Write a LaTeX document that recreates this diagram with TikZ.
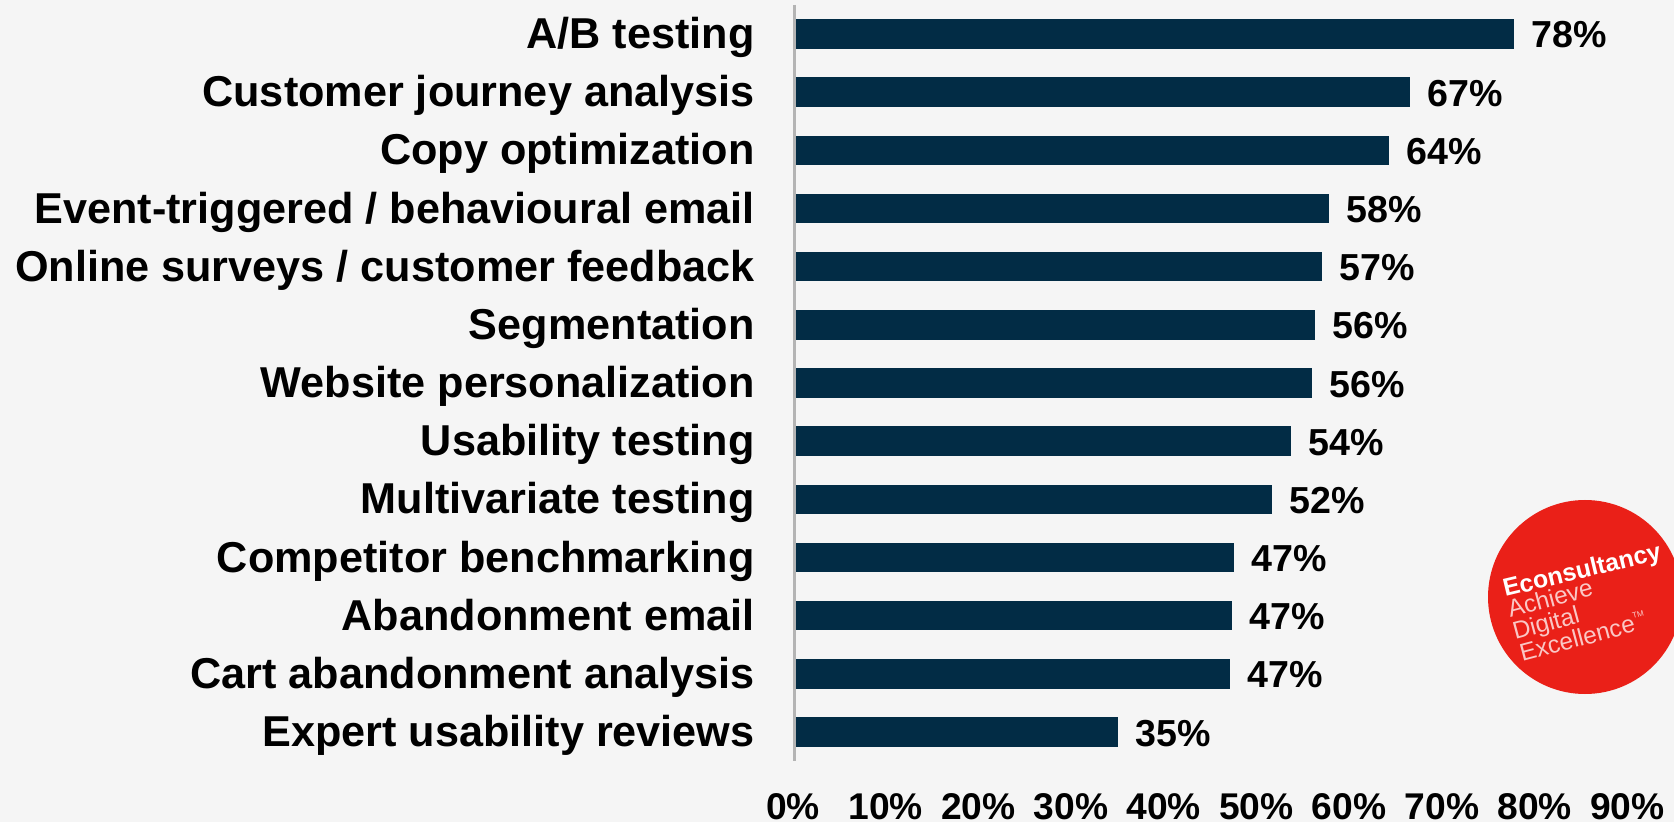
\documentclass[tikz,border=0pt]{standalone}
\usepackage{fontspec}
\setmainfont{Liberation Sans}
\definecolor{pagebg}{HTML}{F5F5F5}
\definecolor{barblue}{HTML}{022C45}
\definecolor{axisgrey}{HTML}{B4B4B4}
\definecolor{logored}{HTML}{EA2018}
\tikzset{
  px/.style={x=0.5pt,y=-0.5pt},
  cat/.style={anchor=base east,font=\bfseries\fontsize{21.6}{24}\selectfont,text=black,inner sep=0pt},
  val/.style={anchor=base west,font=\bfseries\fontsize{18.8}{22}\selectfont,text=black,inner sep=0pt},
  tick/.style={anchor=base,font=\bfseries\fontsize{18.6}{22}\selectfont,text=black,inner sep=0pt},
  hbar/.style={fill=barblue,draw=none},
  logotext/.style={rotate=15,anchor=base west,inner sep=0pt,text=white!75!logored,font=\fontsize{12.2}{14}\selectfont},
}
\begin{document}
\begin{tikzpicture}[px]
\path[use as bounding box,fill=pagebg] (0,0) rectangle (1674,822);
\draw[axisgrey,line width=1.2pt] (794.5,5) -- (794.5,761);
\foreach \i/\lab/\pct/\xend in {
  0/A\slash B testing/78/1514,
  1/Customer journey analysis/67/1410,
  2/Copy optimization/64/1389,
  3/Event-triggered \slash\ behavioural email/58/1329,
  4/Online surveys \slash\ customer feedback/57/1322,
  5/Segmentation/56/1315,
  6/Website personalization/56/1312,
  7/Usability testing/54/1291,
  8/Multivariate testing/52/1272,
  9/Competitor benchmarking/47/1234,
  10/Abandonment email/47/1232,
  11/Cart abandonment analysis/47/1230,
  12/Expert usability reviews/35/1118}{
  \pgfmathsetmacro{\yc}{34+58.17*\i}
  \fill[hbar] (795.5,\yc-14.7) rectangle (\xend,\yc+14.7);
  \node[cat] (label\i) at (755,\yc+14.5) {\lab};
  \node[val] (value\i) at (\xend+17,\yc+14) {\pct\%};
}
\foreach \t/\lab in {0/0,1/10,2/20,3/30,4/40,5/50,6/60,7/70,8/80,9/90}{
  \pgfmathsetmacro{\xc}{793+92.7*\t}
  \node[tick] (tick\t) at (\xc,819) {\lab\%};
}
\begin{scope}
  \clip (0,0) rectangle (1674,822);
  \fill[logored] (1585,597) circle [radius=97];
  \node[logotext,rotate=-1.5,text=white,font=\bfseries\fontsize{12.4}{14}\selectfont] (brand) at (1505,597) {Econsultancy};
  \node[logotext] (tag1) at (1510,618) {Achieve};
  \node[logotext] (tag2) at (1515,640) {Digital};
  \node[logotext] (tag3) at (1522,662) {Excellence\raisebox{1ex}{\fontsize{4}{4}\selectfont TM}};
\end{scope}
\end{tikzpicture}
\end{document}
